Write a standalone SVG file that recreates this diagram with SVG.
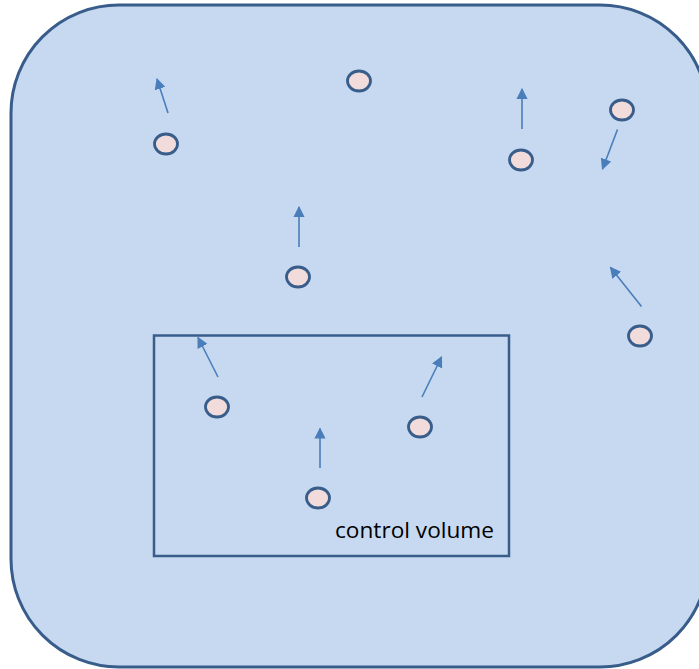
<svg xmlns="http://www.w3.org/2000/svg" width="699" height="669" viewBox="0 0 699 669">
<style>
.p{fill:#f2dcdb;stroke:#385d8a;stroke-width:2.8}
.a{stroke:#4a7ebb;stroke-width:1.6;fill:none;marker-end:url(#h)}
.t{font-family:"Open Sans","Liberation Sans",sans-serif;font-size:21px;fill:#000}
</style>
<defs>
<marker id="h" viewBox="0 0 10 10" refX="9" refY="5" markerWidth="7" markerHeight="7" orient="auto" markerUnits="strokeWidth">
<path d="M0,0 L10,5 L0,10 z" fill="#4a7ebb"/>
</marker>
</defs>
<rect width="699" height="669" fill="#ffffff"/>
<g id="region">
<rect x="11" y="5" width="697" height="662" rx="108" ry="108" fill="#c6d9f1" stroke="#385d8a" stroke-width="3"/>
</g>
<g id="control-volume">
<rect x="154" y="335.5" width="355" height="220.5" fill="none" stroke="#385d8a" stroke-width="2.5"/>
<text class="t" x="335" y="538" textLength="159" lengthAdjust="spacingAndGlyphs">control volume</text>
</g>
<g id="p1"><ellipse class="p" cx="166" cy="144" rx="11.5" ry="10"/></g>
<g id="p2"><ellipse class="p" cx="359" cy="81" rx="11.5" ry="10"/></g>
<g id="p3"><ellipse class="p" cx="521" cy="160" rx="11.5" ry="10"/></g>
<g id="p4"><ellipse class="p" cx="622" cy="110" rx="11.5" ry="10"/></g>
<g id="p5"><ellipse class="p" cx="298" cy="277" rx="11.5" ry="10"/></g>
<g id="p6"><ellipse class="p" cx="640" cy="336" rx="11.5" ry="10"/></g>
<g id="p7"><ellipse class="p" cx="217" cy="407" rx="11.5" ry="10"/></g>
<g id="p8"><ellipse class="p" cx="420" cy="427" rx="11.5" ry="10"/></g>
<g id="p9"><ellipse class="p" cx="318" cy="498" rx="11.5" ry="10"/></g>
<g id="connectors">
<line class="a" x1="168" y1="113" x2="157" y2="79"/>
<line class="a" x1="299" y1="247" x2="299" y2="207"/>
<line class="a" x1="522" y1="129" x2="522" y2="89"/>
<line class="a" x1="617.5" y1="129.5" x2="602.5" y2="169"/>
<line class="a" x1="641.5" y1="306.5" x2="610.5" y2="267.5"/>
<line class="a" x1="218" y1="377" x2="198" y2="337.5"/>
<line class="a" x1="422" y1="397" x2="441.5" y2="357"/>
<line class="a" x1="320" y1="468" x2="320" y2="428.5"/>
</g>
</svg>
